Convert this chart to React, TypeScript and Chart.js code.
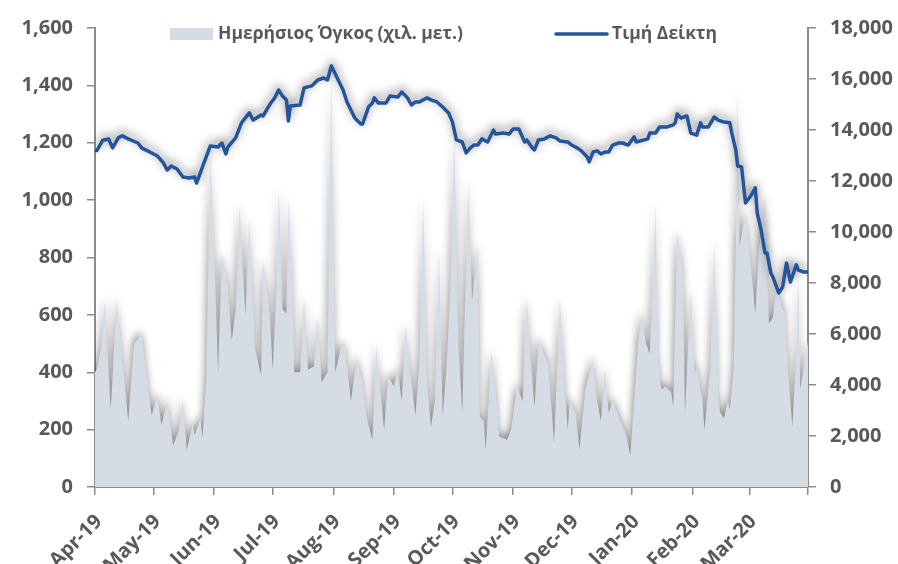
import React, { useEffect, useRef } from "react";
import { Chart, registerables } from "chart.js";

// ---------- data ----------
const monthLabels = ["Apr-19", "May-19", "Jun-19", "Jul-19", "Aug-19", "Sep-19", "Oct-19", "Nov-19", "Dec-19", "Jan-20", "Feb-20", "Mar-20"];
// days since 1 Apr 2019 for each month start
const monthStartDays = [0, 30, 61, 91, 122, 153, 183, 214, 244, 275, 306, 335];
const axisEndDay = 365;

const legendVolume = "Ημερήσιος Όγκος (χιλ. μετ.)";
const legendIndex = "Τιμή Δείκτη";

// daily volume (thousand units), days since 1 Apr 2019
const volumeDays = [0, 1, 3, 5, 8, 9, 11, 14, 17, 20, 24, 27, 29, 32, 34, 37, 40, 43, 45, 47, 50, 51, 54, 55, 57, 59, 61, 63, 65, 68, 70, 72, 74, 77, 79, 82, 85, 86, 89, 91, 93, 94, 96, 98, 99, 101, 102, 105, 107, 109, 112, 114, 116, 119, 121, 123, 126, 128, 131, 134, 137, 139, 142, 144, 148, 150, 153, 155, 157, 159, 161, 164, 166, 168, 170, 172, 174, 176, 178, 180, 182, 184, 186, 188, 191, 193, 196, 197, 199, 200, 203, 205, 207, 211, 213, 216, 219, 220, 221, 223, 225, 227, 232, 235, 238, 241, 242, 243, 246, 248, 251, 255, 257, 259, 261, 263, 265, 269, 272, 274, 277, 278, 280, 282, 284, 287, 288, 290, 292, 295, 296, 298, 301, 302, 305, 307, 308, 311, 312, 315, 317, 319, 320, 322, 324, 325, 327, 328, 329, 330, 331, 333, 335, 338, 340, 343, 345, 347, 349, 352, 353, 355, 357, 359, 360, 361, 363, 365];
const volumeValues = [400, 410, 480, 650, 270, 380, 650, 450, 230, 500, 530, 355, 250, 320, 215, 300, 145, 200, 300, 130, 220, 180, 240, 170, 380, 1150, 830, 400, 810, 700, 510, 620, 980, 600, 930, 480, 390, 790, 640, 410, 720, 1035, 620, 605, 1000, 730, 400, 400, 660, 410, 420, 590, 365, 400, 1430, 400, 490, 485, 300, 450, 360, 245, 165, 490, 200, 385, 350, 410, 300, 560, 420, 250, 420, 1000, 360, 210, 300, 825, 250, 420, 710, 1230, 500, 260, 1060, 650, 840, 245, 230, 130, 470, 350, 175, 165, 200, 350, 300, 560, 650, 450, 280, 510, 430, 155, 650, 300, 200, 300, 260, 130, 340, 445, 300, 230, 410, 260, 300, 230, 180, 110, 400, 500, 605, 500, 465, 975, 450, 340, 350, 330, 280, 885, 755, 260, 685, 400, 420, 300, 200, 420, 850, 320, 260, 240, 300, 270, 420, 860, 1380, 840, 880, 955, 830, 605, 835, 1010, 570, 590, 710, 615, 615, 385, 210, 470, 745, 340, 420, 510];

// index price, days since 1 Apr 2019
const indexDays = [0, 1, 4, 7, 9, 12, 14, 17, 22, 24, 28, 32, 35, 37, 39, 42, 45, 48, 51, 52, 55, 59, 63, 65, 67, 68, 72, 75, 79, 81, 85, 86, 90, 92, 94, 96, 98, 99, 100, 105, 107, 111, 114, 117, 119, 121, 124, 127, 129, 133, 136, 137, 140, 142, 143, 145, 149, 151, 155, 157, 160, 162, 164, 166, 170, 172, 175, 178, 181, 183, 185, 188, 190, 192, 194, 196, 198, 201, 204, 205, 209, 212, 214, 217, 219, 220, 221, 224, 225, 227, 230, 233, 236, 238, 242, 244, 247, 249, 252, 253, 255, 257, 259, 261, 263, 265, 268, 270, 273, 276, 277, 279, 283, 284, 287, 289, 293, 296, 297, 298, 300, 303, 305, 308, 310, 311, 314, 317, 319, 322, 325, 326, 328, 329, 331, 333, 336, 338, 339, 341, 343, 344, 346, 347, 350, 352, 354, 356, 359, 360, 363, 365];
const indexValues = [13200, 13200, 13600, 13650, 13300, 13700, 13770, 13650, 13490, 13290, 13140, 12980, 12710, 12430, 12590, 12470, 12160, 12120, 12160, 11920, 12550, 13370, 13330, 13490, 13060, 13330, 13690, 14280, 14670, 14390, 14590, 14550, 15060, 15260, 15570, 15330, 15180, 14350, 14940, 14980, 15650, 15730, 15960, 16040, 15960, 16510, 16040, 15570, 15100, 14470, 14240, 14240, 14900, 15060, 15260, 15060, 15060, 15330, 15290, 15490, 15260, 14980, 15100, 15100, 15260, 15180, 15100, 14900, 14670, 14310, 13610, 13530, 13100, 13290, 13410, 13410, 13650, 13530, 14000, 13840, 13880, 13840, 14040, 14040, 13690, 13530, 13610, 13290, 13220, 13610, 13650, 13770, 13690, 13570, 13530, 13410, 13290, 13180, 12940, 12750, 13140, 13180, 13060, 13140, 13140, 13410, 13490, 13490, 13410, 13730, 13530, 13570, 13650, 13880, 13880, 14120, 14120, 14200, 14280, 14630, 14470, 14550, 13880, 13800, 14280, 14120, 14120, 14510, 14390, 14310, 14280, 13880, 13220, 12590, 12550, 11140, 11450, 11730, 10750, 10080, 9180, 9180, 8390, 8240, 7610, 7840, 8780, 8040, 8710, 8510, 8430, 8430];

// ---------- styles ----------
const textColor = "#595959";
const axisColor = "#8C8C8C";
const areaColor = "#D6DCE4";
const lineColor = "#24559B";
const fontFamily = "'Open Sans', 'Liberation Sans', sans-serif";

// shadow plugin registered before the built-ins so fills get the shadow too
const shadowPlugin = {
  id: "excelShadow",
  beforeDatasetDraw(chart: any, args: any) {
    const ctx = chart.ctx;
    ctx.save();
    if (args.meta.yAxisID === "y1") {
      ctx.shadowColor = "rgba(0,0,0,0.5)";
      ctx.shadowBlur = 10;
      ctx.shadowOffsetX = 0;
      ctx.shadowOffsetY = -3;
    } else {
      ctx.shadowColor = "rgba(0,0,0,0.45)";
      ctx.shadowBlur = 9;
      ctx.shadowOffsetX = -1;
      ctx.shadowOffsetY = -4;
    }
  },
  afterDatasetDraw(chart: any) {
    chart.ctx.restore();
  },
};
Chart.register(shadowPlugin as any);
Chart.register(...registerables);

const legendPlugin = {
  id: "customLegend",
  afterDraw(chart: any) {
    const ctx = chart.ctx;
    ctx.save();
    ctx.font = `bold 17.5px ${fontFamily}`;
    ctx.textBaseline = "middle";
    ctx.textAlign = "left";
    const y = 34;
    ctx.fillStyle = areaColor;
    ctx.fillRect(170, 28, 43, 12);
    ctx.fillStyle = textColor;
    ctx.fillText(legendVolume, 218, y);
    ctx.strokeStyle = lineColor;
    ctx.lineWidth = 3.5;
    ctx.lineCap = "round";
    ctx.beginPath();
    ctx.moveTo(556, y);
    ctx.lineTo(607, y);
    ctx.stroke();
    ctx.fillStyle = textColor;
    ctx.fillText(legendIndex, 612, y);
    ctx.restore();
  },
};

export default function App() {
  const ref = useRef<HTMLCanvasElement>(null);
  useEffect(() => {
    const tickFont = { family: fontFamily, size: 20, weight: "bold" as const };
    const chart = new Chart(ref.current!, {
      type: "line",
      data: {
        datasets: [
          {
            label: legendIndex,
            data: indexDays.map((d, i) => ({ x: d, y: indexValues[i] })),
            yAxisID: "y1",
            borderColor: lineColor,
            borderWidth: 3.5,
            pointRadius: 0,
            tension: 0,
            fill: false,
            borderJoinStyle: "round",
            order: 0,
          },
          {
            label: legendVolume,
            data: volumeDays.map((d, i) => ({ x: d, y: volumeValues[i] })),
            yAxisID: "y",
            borderWidth: 0,
            borderColor: areaColor,
            backgroundColor: areaColor,
            pointRadius: 0,
            tension: 0,
            fill: "origin",
            order: 1,
          },
        ],
      },
      options: {
        animation: false,
        responsive: false,
        devicePixelRatio: 1,
        layout: { padding: { top: 28, left: 0, right: 0, bottom: 0 } },
        plugins: { legend: { display: false }, tooltip: { enabled: false } },
        scales: {
          x: {
            type: "linear",
            min: 0,
            max: axisEndDay,
            afterBuildTicks: (s: any) => {
              s.ticks = [...monthStartDays, axisEndDay].map((v) => ({ value: v }));
            },
            afterFit: (s: any) => {
              s.height = 77;
            },
            ticks: {
              autoSkip: false,
              maxRotation: 45,
              minRotation: 45,
              padding: 15,
              labelOffset: 4,
              color: textColor,
              font: tickFont,
              callback: (_v: any, i: number) => monthLabels[i] ?? "",
            },
            grid: { drawOnChartArea: false, drawTicks: true, tickLength: 8, color: axisColor, lineWidth: 1.5 },
            border: { display: true, color: axisColor, width: 2 },
          },
          y: {
            position: "left",
            min: 0,
            max: 1600,
            afterFit: (s: any) => {
              s.width = 95;
            },
            ticks: { stepSize: 200, padding: 14, color: textColor, font: tickFont },
            grid: { drawOnChartArea: false, drawTicks: true, tickLength: 8, color: axisColor, lineWidth: 1.5 },
            border: { display: true, color: axisColor, width: 2 },
          },
          y1: {
            position: "right",
            min: 0,
            max: 18000,
            afterFit: (s: any) => {
              s.width = 90;
            },
            ticks: { stepSize: 2000, padding: 14, color: textColor, font: tickFont },
            grid: { drawOnChartArea: false, drawTicks: true, tickLength: 8, color: axisColor, lineWidth: 1.5 },
            border: { display: true, color: axisColor, width: 2 },
          },
        },
      },
      plugins: [legendPlugin],
    } as any);
    return () => chart.destroy();
  }, []);
  return (
    <div style={{ position: "absolute", left: 0, top: 0, width: 898, height: 564, background: "#fff" }}>
      <canvas ref={ref} width={898} height={564} style={{ display: "block", width: 898, height: 564 }} />
    </div>
  );
}
